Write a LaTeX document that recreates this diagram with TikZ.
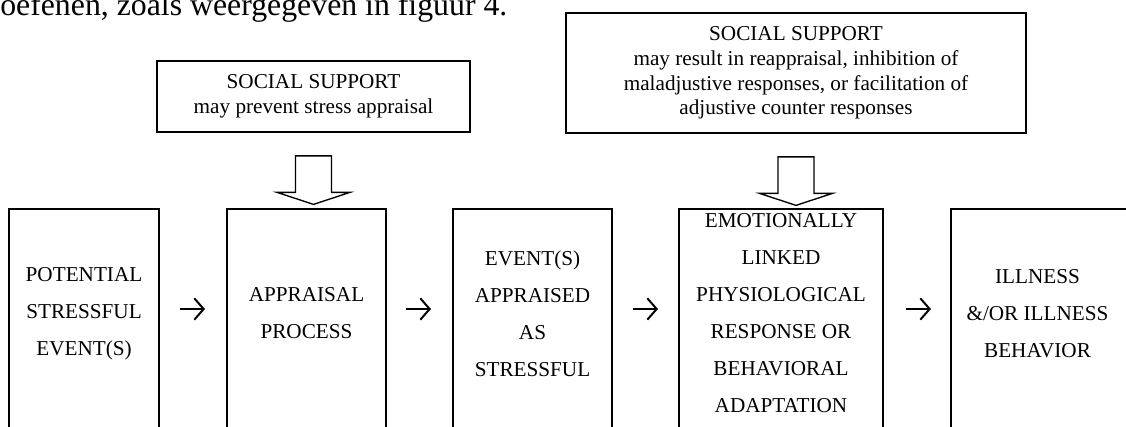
\documentclass[tikz,border=0pt]{standalone}
\usepackage{fontspec}
\setmainfont{Liberation Serif}
\usetikzlibrary{arrows.meta}

\begin{document}
\begin{tikzpicture}[x=0.75pt,y=0.75pt,yscale=-1,xscale=1,
  support/.style={draw,line width=1.3pt,align=center,inner sep=0pt,font=\fontsize{15.9}{18.4}\selectfont},
  stage/.style={draw,line width=1.5pt,anchor=north,minimum height=174pt,inner sep=0pt},
  stagetext/.style={align=center,inner sep=0pt,font=\fontsize{15.9}{27.75}\selectfont},
  flow/.style={line width=1.5pt,-{Straight Barb[length=7pt,width=16pt,line width=1.5pt]}},
  hollow/.style={line width=1pt,line join=miter}]

\path[use as bounding box,clip] (0,0) rectangle (1126,426);

% Text Node
\node[anchor=base west,inner sep=0pt,font=\fontsize{23.85}{28}\selectfont] (para) at (0,15) {oefenen, zoals weergegeven in figuur 4.};

% Support boxes
\node[support,minimum width=234.75pt,minimum height=53.25pt] (s1) at (313.5,96.5) {SOCIAL SUPPORT\\may prevent stress appraisal};
\node[support,minimum width=345pt,minimum height=90pt] (s2) at (796,73) {SOCIAL SUPPORT\\may result in reappraisal, inhibition of\\maladjustive responses, or facilitation of\\adjustive counter responses};

\foreach \s in {s1,s2}
  \draw[hollow] (\s.south) ++(-18,23) -- ++(36,0) -- ++(0,36.5) -- ++(18.5,0) -- ++(-36.5,12) -- ++(-36.5,-12) -- ++(18.5,0) -- cycle;

% Stage boxes
\node[stage,minimum width=112.5pt] (b1) at (84,208) {};
\node[stage,minimum width=119.25pt] (b2) at (306.5,208) {};
\node[stage,minimum width=119.25pt] (b3) at (532.5,208) {};
\node[stage,minimum width=153pt] (b4) at (781,208) {};
\node[stage,minimum width=132pt] (b5) at (1039,208) {};

\node[stagetext] (t1) at (84,313.5) {POTENTIAL\\STRESSFUL\\EVENT(S)};
\node[stagetext] (t2) at (306.5,313.5) {APPRAISAL\\PROCESS};
\node[stagetext] (t3) at (532.5,313.5) {EVENT(S)\\APPRAISED\\AS\\STRESSFUL};
\node[stagetext] (t4) at (781,313.5) {EMOTIONALLY\\LINKED\\PHYSIOLOGICAL\\RESPONSE OR\\BEHAVIORAL\\ADAPTATION};
\node[stagetext] (t5) at (1037.5,313.5) {ILLNESS\\\&/OR ILLNESS\\BEHAVIOR};

\foreach \x [count=\i] in {180,406,633,906} {
  \coordinate (from\i) at (\x,309);
  \coordinate (to\i) at (\x+25,309);
  \draw[flow] (from\i) -- (to\i);
}
\end{tikzpicture}
\end{document}
